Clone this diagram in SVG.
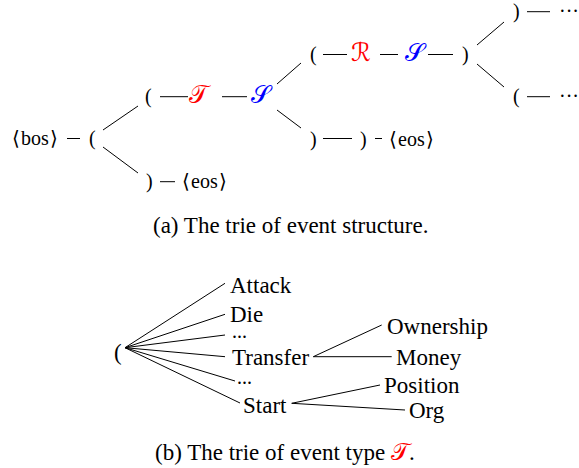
<svg xmlns="http://www.w3.org/2000/svg" width="579" height="468" viewBox="0 0 579 468">
  <style>
    text { font-family: "Liberation Serif", "Times New Roman", serif; fill: #000; }
    .s { font-size: 20px; }
    .m { font-size: 23px; }
    .dots { font-size: 20px; }
    .br { font-family: "DejaVu Sans", sans-serif; font-size: 20px; }
    .cal { font-family: "DejaVu Serif", "DejaVu Sans", serif; font-size: 25px; }
    .red { fill: #ff0000; }
    .blue { fill: #0000ff; }
    .edge { stroke: #000; stroke-width: 1; fill: none; }
  </style>
  <rect width="579" height="468" fill="#fff"/>

  <!-- connectors: trie edges -->
  <g id="connectors" class="edge">
    <!-- event-structure trie -->
    <line x1="67" y1="138.5" x2="80" y2="138.5"/>
    <line x1="103" y1="130" x2="138" y2="106"/>
    <line x1="103" y1="147" x2="138" y2="173"/>
    <line x1="160" y1="96.7" x2="188" y2="96.7"/>
    <line x1="222" y1="96.7" x2="247" y2="96.7"/>
    <line x1="160" y1="181.7" x2="175" y2="181.7"/>
    <line x1="277" y1="84" x2="301" y2="63"/>
    <line x1="277" y1="110" x2="301" y2="128"/>
    <line x1="323" y1="54.5" x2="347" y2="54.5"/>
    <line x1="380" y1="54.5" x2="398" y2="54.5"/>
    <line x1="428" y1="54.5" x2="453" y2="54.5"/>
    <line x1="477" y1="45" x2="504" y2="22"/>
    <line x1="477" y1="64" x2="504" y2="87"/>
    <line x1="527" y1="11.7" x2="550" y2="11.7"/>
    <line x1="527" y1="96.7" x2="550" y2="96.7"/>
    <line x1="323" y1="138.5" x2="352" y2="138.5"/>
    <line x1="375" y1="138.5" x2="382" y2="138.5"/>
    <!-- event-type trie -->
    <line x1="125" y1="347.7" x2="225" y2="283.3"/>
    <line x1="125" y1="347.7" x2="225" y2="314.3"/>
    <line x1="125" y1="347.7" x2="225" y2="335"/>
    <line x1="125" y1="347.7" x2="225" y2="356.7"/>
    <line x1="125" y1="347.7" x2="235" y2="381"/>
    <line x1="125" y1="347.7" x2="240" y2="403"/>
    <line x1="313.3" y1="356.7" x2="381.7" y2="325"/>
    <line x1="313.3" y1="356.7" x2="391.7" y2="356.7"/>
    <line x1="291.7" y1="403.3" x2="380" y2="385"/>
    <line x1="291.7" y1="403.3" x2="405" y2="410"/>
  </g>

  <!-- (a) event-structure trie nodes -->
  <g id="bos">
    <text class="br" x="12" y="145">⟨</text>
    <text class="s" x="21" y="145">bos</text>
    <text class="br" x="50" y="145">⟩</text>
  </g>
  <g id="open-root"><text class="s" x="89" y="145">(</text></g>
  <g id="open-event"><text class="s" x="145" y="103">(</text></g>
  <g id="type-T"><text class="cal red" x="189" y="103">𝒯</text></g>
  <g id="span-S1"><text class="cal blue" x="251" y="103">𝒮</text></g>
  <g id="close-root"><text class="s" x="146" y="188">)</text></g>
  <g id="eos-1">
    <text class="br" x="182" y="188">⟨</text>
    <text class="s" x="191" y="188">eos</text>
    <text class="br" x="219" y="188">⟩</text>
  </g>
  <g id="open-arg"><text class="s" x="310" y="61">(</text></g>
  <g id="role-R"><text class="cal red" x="351" y="61">ℛ</text></g>
  <g id="span-S2"><text class="cal blue" x="405" y="61">𝒮</text></g>
  <g id="close-arg"><text class="s" x="462" y="61">)</text></g>
  <g id="close-arg-next"><text class="s" x="513" y="18">)</text></g>
  <g id="more-1"><text class="s" x="559" y="18">···</text></g>
  <g id="open-arg-next"><text class="s" x="513" y="103">(</text></g>
  <g id="more-2"><text class="s" x="559" y="103">···</text></g>
  <g id="close-event"><text class="s" x="310" y="146">)</text></g>
  <g id="close-root-2"><text class="s" x="360" y="146">)</text></g>
  <g id="eos-2">
    <text class="br" x="389" y="146">⟨</text>
    <text class="s" x="398" y="146">eos</text>
    <text class="br" x="426" y="146">⟩</text>
  </g>

  <g id="caption-a"><text class="m" x="153" y="233">(a) The trie of event structure.</text></g>

  <!-- (b) event-type trie nodes -->
  <g id="type-root"><text class="m" x="114" y="360">(</text></g>
  <g id="attack"><text class="m" x="230" y="293">Attack</text></g>
  <g id="die"><text class="m" x="230" y="322">Die</text></g>
  <g id="ellipsis-1"><text class="dots" x="232" y="338">...</text></g>
  <g id="transfer"><text class="m" x="232" y="364.5">Transfer</text></g>
  <g id="ellipsis-2"><text class="dots" x="237" y="384">...</text></g>
  <g id="start"><text class="m" x="243" y="413">Start</text></g>
  <g id="ownership"><text class="m" x="387" y="334">Ownership</text></g>
  <g id="money"><text class="m" x="396" y="365">Money</text></g>
  <g id="position"><text class="m" x="384" y="393">Position</text></g>
  <g id="org"><text class="m" x="409" y="418">Org</text></g>

  <g id="caption-b"><text class="m" x="155" y="460">(b) The trie of event type <tspan class="cal red" style="font-size:24px">𝒯</tspan>.</text></g>
</svg>
